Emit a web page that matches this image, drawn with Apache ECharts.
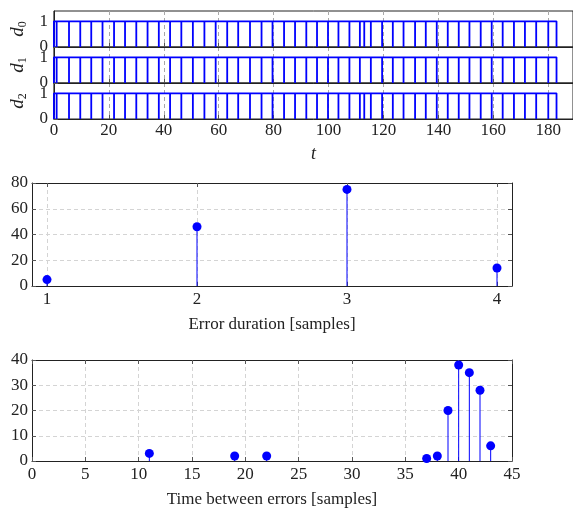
<!DOCTYPE html>
<html>
<head>
<meta charset="utf-8">
<script src="https://cdn.jsdelivr.net/npm/echarts@6/dist/echarts.min.js"></script>
<style>
  html, body { margin: 0; padding: 0; background: #fff; }
  #chart { width: 573px; height: 509px; }
</style>
</head>
<body>
<div id="chart"></div>
<script>
// times t at which each digital signal dips to 0
const pulsesD0 = [1, 5.5, 9.6, 13.6, 17.7, 21.9, 25.9, 30.0, 34.1, 38.2, 42.3, 46.4, 50.6, 54.8,
  58.9, 63.1, 67.1, 71.4, 75.6, 79.6, 83.8, 87.8, 91.9, 95.8, 99.8, 103.6, 107.6, 111.4, 113.0,
  115.4, 119.5, 123.4, 127.3, 131.5, 135.4, 139.4, 143.4, 147.4, 151.3, 155.4, 159.4, 163.4,
  167.5, 171.5, 175.6, 180.0];
const pulsesD1 = [1, 5.5, 9.6, 13.6, 17.7, 21.9, 25.9, 30.0, 34.1, 38.2, 42.3, 46.4, 50.6, 54.8,
  58.9, 63.1, 67.1, 71.4, 75.6, 79.6, 83.8, 87.8, 91.9, 95.8, 99.8, 103.6, 107.6, 111.4,
  115.4, 119.5, 123.4, 127.3, 131.5, 135.4, 139.4, 143.4, 147.4, 151.3, 155.4, 159.4, 163.4,
  167.5, 171.5, 175.6, 180.0];
const pulsesD2 = [1, 5.5, 9.6, 13.6, 17.7, 21.9, 25.9, 30.0, 34.1, 38.2, 42.3, 46.4, 50.6, 54.8,
  58.9, 63.1, 67.1, 71.4, 75.6, 79.6, 83.8, 87.8, 91.9, 95.8, 99.8, 103.6, 107.6, 111.4, 113.0,
  115.4, 119.5, 123.4, 127.3, 131.5, 135.4, 139.4, 143.4, 147.4, 151.3, 155.4, 159.4, 163.4,
  167.5, 171.5, 175.6, 180.0];
const signalEnd = 183;
const signalNames = ['0', '1', '2'];

// error duration histogram
const durationSamples = [1, 2, 3, 4];
const durationCounts = [5, 46, 75, 14];

// time between errors histogram
const gapSamples = [11, 19, 22, 37, 38, 39, 40, 41, 42, 43];
const gapCounts = [3, 2, 2, 1, 2, 20, 38, 35, 28, 6];

const serif = '"Liberation Serif", "DejaVu Serif", serif';
const blue = '#0000ff';
const frame = '#222';
const tickColor = '#555';
const txt = '#222';

function stepData(pulses) {
  const pts = [[0, 0], [0, 1]];
  for (const p of pulses) pts.push([p, 1], [p, 0], [p, 1]);
  pts.push([signalEnd, 1], [signalEnd, 0]);
  return pts;
}

const chart = echarts.init(document.getElementById('chart'));

const grids = [];
const xAxes = [];
const yAxes = [];
const series = [];

// --- top: three stacked signals ---
const sigTops = [11, 47, 83];
[pulsesD0, pulsesD1, pulsesD2].forEach((pulses, i) => {
  const last = i === 2;
  grids.push({ left: 51, right: -3, top: sigTops[i], height: 36, show: true,
    borderColor: frame, borderWidth: 1, backgroundColor: 'transparent' });
  xAxes.push({
    gridIndex: i, type: 'value', min: 0, max: 189, interval: 20,
    axisLine: { show: true, onZero: false, lineStyle: { color: frame } },
    axisTick: { show: true, inside: true, length: 4, lineStyle: { color: tickColor } },
    axisLabel: { show: last, showMaxLabel: false, margin: 3,
      color: txt, fontFamily: serif, fontSize: 17 },
    splitLine: { show: true, lineStyle: { color: '#a8a8a8', type: [4, 3] } },
    name: last ? 't' : '', nameLocation: 'middle', nameGap: 26,
    nameTextStyle: { fontFamily: serif, fontStyle: 'italic', fontSize: 18, color: txt }
  });
  yAxes.push({
    gridIndex: i, type: 'value', min: 0, max: 1.4, interval: 1,
    axisLine: { show: true, onZero: false, lineStyle: { color: frame } },
    axisTick: { show: true, inside: true, length: 4, lineStyle: { color: tickColor } },
    axisLabel: { showMaxLabel: false, margin: 6, color: txt, fontFamily: serif, fontSize: 17 },
    splitLine: { show: false },
    name: '{v|d}{s|' + signalNames[i] + '}', nameLocation: 'middle', nameRotate: 90, nameGap: 24,
    nameTextStyle: {
      color: txt,
      rich: {
        v: { fontFamily: serif, fontStyle: 'italic', fontSize: 19, lineHeight: 22, verticalAlign: 'middle', color: txt },
        s: { fontFamily: serif, fontSize: 12, lineHeight: 22, verticalAlign: 'bottom', color: txt }
      }
    }
  });
  series.push({
    type: 'line', xAxisIndex: i, yAxisIndex: i, data: stepData(pulses),
    showSymbol: false, lineStyle: { color: blue, width: 1.8 }, animation: false
  });
});

// --- stem panels ---
function stemPanel(gi, top, xOpt, yOpt, xName, xs, ys) {
  grids.push({ left: 32, width: 480, top: top, height: 103 });
  const base = {
    gridIndex: gi, type: 'value',
    axisLine: { show: true, onZero: false, lineStyle: { color: frame } },
    axisTick: { show: true, inside: true, length: 4, lineStyle: { color: tickColor } },
    splitLine: { show: true, lineStyle: { color: '#d4d4d4', type: [4, 3] } }
  };
  const xIdx = xAxes.length;
  xAxes.push(Object.assign({}, base, xOpt, {
    position: 'bottom',
    axisLabel: Object.assign({ margin: 5, color: txt, fontFamily: serif, fontSize: 17 }, xOpt.axisLabel || {}),
    name: xName, nameLocation: 'middle', nameGap: 30,
    nameTextStyle: { fontFamily: serif, fontSize: 17, color: txt }
  }));
  xAxes.push(Object.assign({}, base, xOpt, {
    position: 'top', axisLabel: { show: false }, splitLine: { show: false }
  }));
  const yIdx = yAxes.length;
  yAxes.push(Object.assign({}, base, yOpt, {
    position: 'left',
    axisLabel: { margin: 4, color: txt, fontFamily: serif, fontSize: 17 }
  }));
  yAxes.push(Object.assign({}, base, yOpt, {
    position: 'right', axisLabel: { show: false }, splitLine: { show: false }
  }));
  const pts = xs.map((x, k) => [x, ys[k]]);
  series.push({
    type: 'bar', xAxisIndex: xIdx, yAxisIndex: yIdx, data: pts, barWidth: 1,
    itemStyle: { color: blue }, animation: false, z: 2
  });
  series.push({
    type: 'scatter', xAxisIndex: xIdx, yAxisIndex: yIdx, data: pts, symbolSize: 9,
    itemStyle: { color: blue, opacity: 1 }, animation: false, z: 3
  });
}

stemPanel(3, 183,
  { min: 0.9, max: 4.1,
    axisTick: { show: true, inside: true, length: 4, lineStyle: { color: tickColor }, customValues: durationSamples },
    axisLabel: { customValues: durationSamples } },
  { min: 0, max: 80, interval: 20 },
  'Error duration [samples]', durationSamples, durationCounts);

stemPanel(4, 360,
  { min: 0, max: 45, interval: 5 },
  { min: 0, max: 40, interval: 10 },
  'Time between errors [samples]', gapSamples, gapCounts);

chart.setOption({
  animation: false,
  backgroundColor: '#fff',
  grid: grids,
  xAxis: xAxes,
  yAxis: yAxes,
  series: series
});
</script>
</body>
</html>
